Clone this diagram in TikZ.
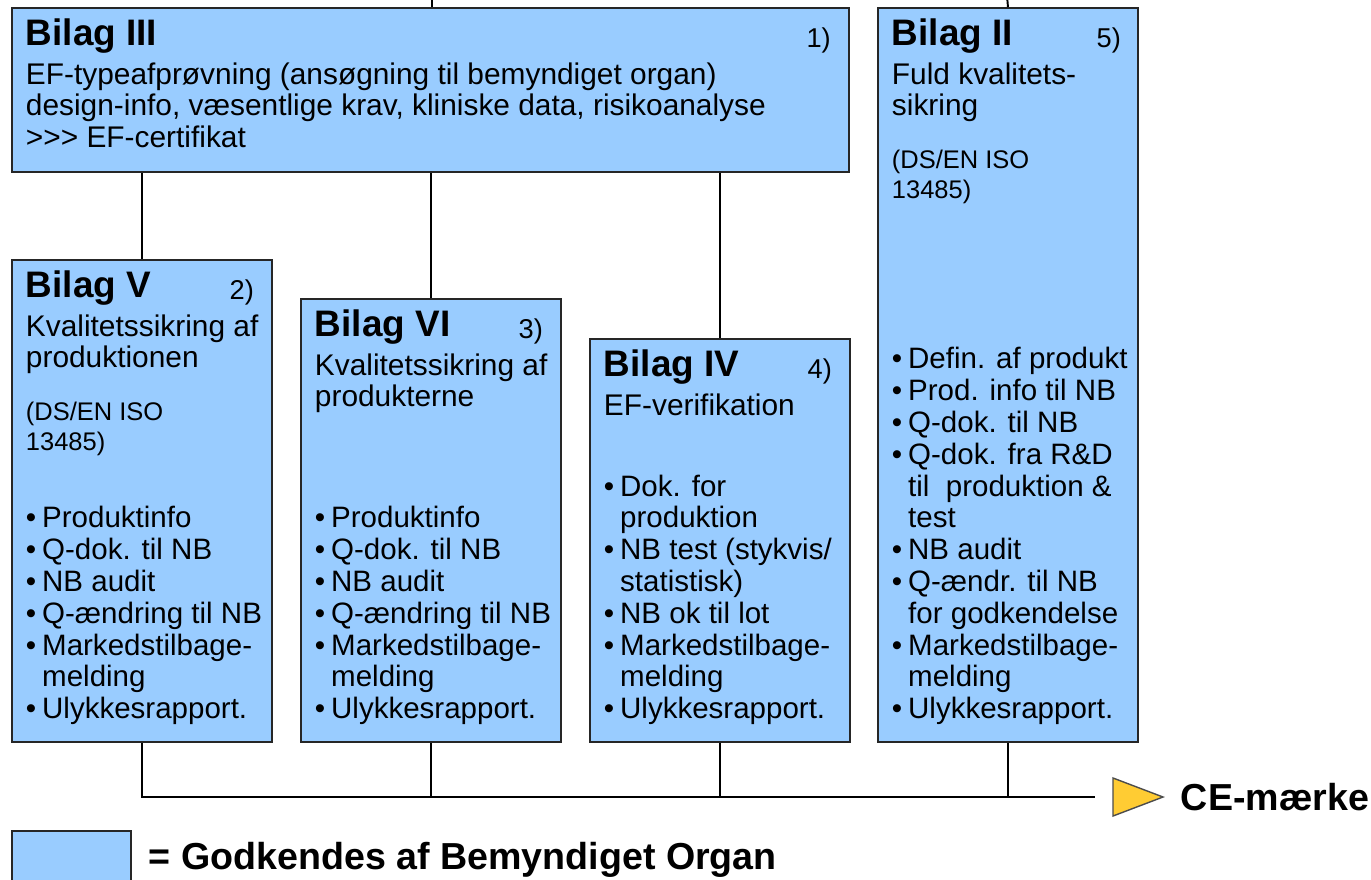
\documentclass[tikz,border=0pt]{standalone}
\usepackage{fontspec}
\setmainfont{Liberation Sans}
\usepackage{xcolor}
\usepackage{tikz}
\usetikzlibrary{positioning, calc}

\definecolor{bsblaa}{RGB}{153,204,255}
\definecolor{cegul}{RGB}{255,204,51}
\newcommand{\pkt}{\makebox[0.55em][l]{\textbullet}}
\newcommand{\indryk}{\hspace*{0.55em}}

\begin{document}
\begin{tikzpicture}[
    x=0.02cm, y=-0.02cm,
    line width=1.1pt,
    boks/.style={draw=black!85, fill=bsblaa, anchor=north west, inner sep=0pt},
    titel/.style={anchor=base west, inner sep=0pt,
                  font=\fontsize{21}{24}\selectfont\bfseries},
    nr/.style={anchor=base east, inner sep=0pt, font=\fontsize{15.5}{18}\selectfont},
    tekst/.style={anchor=north west, inner sep=0pt, align=left,
                  font=\fontsize{17}{17.8}\selectfont},
    iso/.style={anchor=north west, inner sep=0pt, align=left,
                font=\fontsize{14.5}{17}\selectfont},
    liste/.style={anchor=south west, inner sep=0pt, align=left,
                  font=\fontsize{16.8}{18.1}\selectfont},
    stor/.style={anchor=base west, inner sep=0pt,
                 font=\fontsize{21.4}{24}\selectfont\bfseries}
  ]
  \useasboundingbox (0,0) rectangle (1371,879);

  % --- Bilag ---
  \node[boks, minimum width=16.74cm, minimum height=3.28cm] (b3) at (11,7) {};
  \node[boks, minimum width=5.2cm, minimum height=14.68cm] (b2) at (877,7) {};
  \node[boks, minimum width=5.2cm, minimum height=9.64cm] (b5) at (11,259) {};
  \node[boks, minimum width=5.2cm, minimum height=8.86cm] (b6) at (300,298) {};
  \node[boks, minimum width=5.2cm, minimum height=8.06cm] (b4) at (589,338) {};

  % --- Forbindelser ---
  \coordinate (ind3) at (432,-5);
  \coordinate (ind2) at (1007,-5);
  \draw (ind3) -- (ind3 |- b3.north);
  \draw (ind2) -- (b2.north);
  \draw (b5.north) -- (b5.north |- b3.south);
  \draw (b6.north) -- (b6.north |- b3.south);
  \draw (b4.north) -- (b4.north |- b3.south);

  \coordinate (pil) at (1113,797);
  \draw[shorten >=0.36cm] (b5.south) |- (pil);
  \foreach \b in {b6,b4,b2}
    \draw (\b.south) -- (\b.south |- pil);
  \draw[fill=cegul, draw=black!70, line width=0.8pt]
    (pil) -- ++(0,-19) -- ++(50,19) -- ++(-50,19) -- cycle;
  \node[stor] (ce) at (1180,810) {CE-mærke};

  % --- Bilag III ---
  \node[titel] (t3) at ($(b3.north west)+(14,38)$) {Bilag III};
  \node[nr] (n3) at ($(b3.north east)+(-18,40)$) {1)};
  \node[tekst] (k3) at ($(b3.north west)+(14,55)$)
    {EF-typeafprøvning (ansøgning til bemyndiget organ)\\
     design-info, væsentlige krav, kliniske data, risikoanalyse\\
     >\kern0pt>\kern0pt> EF-certifikat};

  % --- Bilag II ---
  \node[titel] (t2) at ($(b2.north west)+(14,38)$) {Bilag II};
  \node[nr] (n2) at ($(b2.north east)+(-17,40)$) {5)};
  \node[tekst] (k2) at ($(b2.north west)+(14,55)$) {Fuld kvalitets-\\sikring};
  \node[iso] (i2) at ($(b2.north west)+(14,142)$) {(DS/EN ISO\\13485)};
  \node[liste] (l2) at ($(b2.south west)+(14,-17)$)
    {\pkt Defin. af produkt\\\pkt Prod. info til NB\\\pkt Q-dok. til NB\\
     \pkt Q-dok. fra R\&D\\\indryk til\ \ produktion \&\\\indryk test\\
     \pkt NB audit\\\pkt Q-ændr. til NB\\\indryk for godkendelse\\
     \pkt Markedstilbage-\\\indryk melding\\\pkt Ulykkesrapport.};

  % --- Bilag V ---
  \node[titel] (t5) at ($(b5.north west)+(14,38)$) {Bilag V};
  \node[nr] (n5) at ($(b5.north east)+(-18,40)$) {2)};
  \node[tekst] (k5) at ($(b5.north west)+(14,55)$)
    {Kvalitetssikring af\\produktionen};
  \node[iso] (i5) at ($(b5.north west)+(14,142)$) {(DS/EN ISO\\13485)};
  \node[liste] (l5) at ($(b5.south west)+(14,-17)$)
    {\pkt Produktinfo\\\pkt Q-dok. til NB\\\pkt NB audit\\
     \pkt Q-ændring til NB\\\pkt Markedstilbage-\\\indryk melding\\
     \pkt Ulykkesrapport.};

  % --- Bilag VI ---
  \node[titel] (t6) at ($(b6.north west)+(14,38)$) {Bilag VI};
  \node[nr] (n6) at ($(b6.north east)+(-18,40)$) {3)};
  \node[tekst] (k6) at ($(b6.north west)+(14,55)$)
    {Kvalitetssikring af\\produkterne};
  \node[liste] (l6) at ($(b6.south west)+(14,-17)$)
    {\pkt Produktinfo\\\pkt Q-dok. til NB\\\pkt NB audit\\
     \pkt Q-ændring til NB\\\pkt Markedstilbage-\\\indryk melding\\
     \pkt Ulykkesrapport.};

  % --- Bilag IV ---
  \node[titel] (t4) at ($(b4.north west)+(14,38)$) {Bilag IV};
  \node[nr] (n4) at ($(b4.north east)+(-18,40)$) {4)};
  \node[tekst] (k4) at ($(b4.north west)+(14,55)$) {EF-verifikation};
  \node[liste] (l4) at ($(b4.south west)+(14,-17)$)
    {\pkt Dok. for\\\indryk produktion\\\pkt NB test (stykvis/\\
     \indryk statistisk)\\\pkt NB ok til lot\\\pkt Markedstilbage-\\
     \indryk melding\\\pkt Ulykkesrapport.};

  % --- Signaturforklaring ---
  \node[boks, minimum width=2.38cm, minimum height=1.2cm] (leg) at (11,830) {};
  \node[stor] (legtekst) at (148,869) {= Godkendes af Bemyndiget Organ};

\end{tikzpicture}
\end{document}
